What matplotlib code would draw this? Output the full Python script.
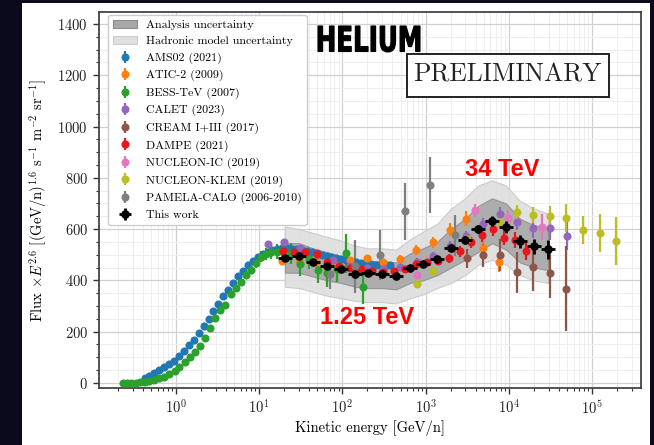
import matplotlib
matplotlib.use("Agg")
import matplotlib.pyplot as plt
import numpy as np
from matplotlib.patches import Rectangle, Patch, PathPatch
from matplotlib.textpath import TextPath
from matplotlib.font_manager import FontProperties
from matplotlib.transforms import Affine2D
from matplotlib.ticker import AutoMinorLocator, LogLocator, NullFormatter

plt.rcParams['font.family'] = 'serif'
plt.rcParams['font.serif'] = ['cmr10']
plt.rcParams['mathtext.fontset'] = 'cm'
plt.rcParams['axes.formatter.use_mathtext'] = True

# ---- measurements (Ek/n in GeV/n, flux x E^2.6) ----
ams_e = [0.42, 0.48, 0.55, 0.63, 0.72, 0.83, 0.95, 1.09, 1.25, 1.43, 1.64, 1.88, 2.15,
         2.46, 2.82, 3.23, 3.70, 4.24, 4.86, 5.57, 6.38, 7.31, 8.38, 9.60, 11.0, 12.6,
         14.4, 16.5, 18.9, 21.7, 24.8, 28.5, 32.6, 37.4, 42.8, 49.1, 56.2, 64.4, 73.8,
         84.6, 96.9, 111, 127, 146, 167, 191, 219, 251, 288, 330, 378]
ams_f = [20, 28, 40, 50, 61, 72, 86, 103, 124, 147, 169, 196, 223, 251, 281, 307, 337,
         364, 390, 416, 438, 458, 476, 492, 503, 512, 519, 523, 525, 526, 524, 521, 518,
         513, 509, 505, 500, 495, 491, 487, 482, 478, 474, 470, 467, 465, 463, 461, 460,
         459, 458]

atic_e = [19, 30, 48, 77, 123, 198, 310, 490, 770, 1230, 1950, 3100, 4900, 7700]
atic_f = [474, 478, 470, 472, 478, 486, 470, 482, 517, 549, 598, 641, 525, 472]
atic_err = [10, 10, 10, 12, 12, 14, 15, 18, 20, 22, 25, 30, 35, 40]

bess_e = [0.23, 0.26, 0.29, 0.33, 0.37, 0.42, 0.48, 0.55, 0.63, 0.72, 0.83, 0.96, 1.10,
          1.27, 1.46, 1.68, 1.94, 2.23, 2.57, 2.96, 3.41, 3.93, 4.52, 5.21, 6.00, 6.91,
          7.96, 9.17, 10.6, 12.2, 14.0, 16.2, 18.6, 24.0, 31.0, 40.0, 51.0, 66.0, 85.0,
          110, 175]
bess_f = [0, 0, 0, 1, 2, 4, 6, 13, 19, 24, 33, 46, 61, 80, 101, 119, 142, 177, 214, 252,
          283, 305, 345, 372, 395, 419, 440, 468, 493, 503, 510, 512, 516, 505, 462, 485,
          440, 430, 445, 505, 376]
bess_err = [1, 1, 1, 1, 1, 1, 1, 1, 1, 2, 2, 2, 2, 3, 3, 3, 4, 4, 5, 6, 7, 8, 9, 10, 12,
            14, 16, 18, 22, 25, 28, 30, 35, 40, 45, 40, 50, 55, 50, 75, 70]

calet_e = [12.7, 20, 31, 49, 77, 123, 195, 310, 490, 780, 1230, 1950, 3100, 4900, 7800,
           12400, 19500, 31000, 50000]
calet_f = [541, 549, 525, 502, 478, 455, 450, 445, 451, 470, 494, 533, 572, 619, 659,
           627, 604, 604, 572]
calet_err = [8, 8, 8, 8, 8, 9, 10, 12, 14, 16, 18, 20, 22, 25, 28, 32, 38, 45, 55]

cream_e = [3150, 4900, 7800, 12400, 19600, 31000, 49000]
cream_f = [486, 498, 498, 431, 451, 427, 368]
cream_err = [36, 45, 62, 80, 94, 94, 165]

dampe_e = [19.3, 26, 36, 49, 66, 90, 122, 166, 225, 305, 414, 562, 763, 1035, 1405, 1907,
           2589, 3514, 4770, 6474, 8788, 11929, 16190]
dampe_f = [514, 510, 510, 502, 472, 457, 447, 443, 435, 431, 435, 443, 462, 470, 474,
           486, 513, 549, 575, 600, 565, 558, 513]
dampe_err = [6, 6, 6, 6, 7, 7, 8, 8, 9, 10, 11, 12, 13, 14, 16, 18, 20, 22, 24, 26, 28,
             30, 34]

nic_e = [780, 3900, 9800, 25000]
nic_f = [419, 674, 643, 608]
nic_err = [15, 25, 30, 52]

klem_e = [790, 1230, 3150, 7800, 12400, 19600, 31000, 49000, 78000, 124000, 196000]
klem_f = [384, 435, 560, 627, 666, 655, 651, 643, 596, 584, 553]
klem_err = [15, 18, 20, 25, 28, 32, 40, 55, 55, 75, 95]

pam_e = [71, 141, 283, 566, 1130, 2260]
pam_f = [423, 455, 500, 670, 772, 576]
pam_err = [58, 104, 98, 111, 110, 80]

# this work + systematic bands
work_e = [20.4, 30.1, 44.3, 65.3, 96.2, 141.7, 203, 299, 441, 650, 931, 1371, 2020, 2976,
          4267, 6285, 9253, 13630, 20080, 29580]
work_f = [486, 494, 472, 457, 443, 423, 427, 423, 416, 447, 462, 482, 525, 557, 600, 631,
          608, 553, 533, 521]
work_err = [8, 8, 8, 8, 8, 8, 8, 9, 9, 10, 11, 12, 13, 15, 17, 19, 22, 25, 30, 36]
ana_hi = [545, 545, 525, 510, 495, 480, 475, 475, 470, 505, 525, 550, 600, 640, 690, 720,
          700, 640, 615, 605]
ana_lo = [430, 430, 415, 400, 390, 375, 370, 370, 365, 390, 400, 420, 450, 480, 510, 545,
          520, 470, 450, 440]
had_hi = [610, 600, 585, 570, 555, 535, 525, 525, 520, 560, 590, 620, 680, 720, 770, 790,
          770, 710, 680, 660]
had_lo = [375, 370, 355, 340, 330, 320, 315, 315, 310, 330, 345, 370, 390, 420, 460, 480,
          460, 420, 400, 390]

W, H = 654, 445
fig = plt.figure(figsize=(W / 100, H / 100), dpi=100, facecolor='#0b0a1c')
fig.patches.append(Rectangle((22 / W, 0), (650 - 22) / W, (H - 3) / H,
                             transform=fig.transFigure, facecolor='white',
                             edgecolor='none', zorder=-10))
ax = fig.add_axes([99 / W, 1 - 388 / H, (641 - 99) / W, (388 - 12) / H])
ax.set_xscale('log')

ax.fill_between(work_e, had_lo, had_hi, color='#dedede', alpha=0.9, lw=0.8,
                edgecolor='#c8c8c8', zorder=1)
ax.fill_between(work_e, ana_lo, ana_hi, color='#a8a8a8', alpha=0.9, lw=0.8,
                edgecolor='#909090', zorder=1.1)

kw = dict(fmt='o', ms=4.8, elinewidth=1.6, capsize=0, zorder=3)
h_ams = ax.errorbar(ams_e, ams_f, yerr=np.full(len(ams_e), 3), color='#1f77b4', **kw)
h_atic = ax.errorbar(atic_e, atic_f, yerr=atic_err, color='#ff7f0e', **kw)
h_bess = ax.errorbar(bess_e, bess_f, yerr=bess_err, color='#2ca02c', **kw)
h_calet = ax.errorbar(calet_e, calet_f, yerr=calet_err, color='#9467bd', **kw)
h_cream = ax.errorbar(cream_e, cream_f, yerr=cream_err, color='#8c564b', **kw)
h_dampe = ax.errorbar(dampe_e, dampe_f, yerr=dampe_err, color='#e8171b', **kw)
h_nic = ax.errorbar(nic_e, nic_f, yerr=nic_err, color='#e377c2', **kw)
h_klem = ax.errorbar(klem_e, klem_f, yerr=klem_err, color='#bcbd22', **kw)
h_pam = ax.errorbar(pam_e, pam_f, yerr=pam_err, color='#7f7f7f', **kw)

we = np.array(work_e)
h_work = ax.errorbar(work_e, work_f, yerr=work_err, xerr=[we - we / 1.21, we * 1.21 - we],
                     fmt='o', ms=5.2, color='black', elinewidth=2, capsize=0, zorder=5)

ax.set_xlim(0.1187, 3.88e5)
ax.set_ylim(-20, 1447)
ax.set_xticks([1, 10, 100, 1e3, 1e4, 1e5])
ax.set_yticks([0, 200, 400, 600, 800, 1000, 1200, 1400])
ax.yaxis.set_minor_locator(AutoMinorLocator(4))
ax.xaxis.set_minor_locator(LogLocator(base=10, subs=np.arange(2, 10), numticks=12))
ax.xaxis.set_minor_formatter(NullFormatter())
ax.grid(which='major', color='#d0d0d0', lw=0.9, zorder=0)
ax.grid(which='minor', color='#eeeeee', lw=0.7, zorder=0)
ax.set_axisbelow(True)
ax.tick_params(which='both', direction='out', labelsize=10.5, colors='#333333',
               labelcolor='#222222')
ax.tick_params(which='major', length=4.5, width=1)
ax.tick_params(which='minor', length=2.5, width=0.8)
for s in ax.spines.values():
    s.set_color('#444444')
    s.set_linewidth(1.3)

ax.set_xlabel('Kinetic energy [GeV/n]', fontsize=10.5, labelpad=2)
ax.set_ylabel(r'Flux $\times E^{2.6}$ [(GeV/n)$^{1.6}$ s$^{-1}$ m$^{-2}$ sr$^{-1}$]',
              fontsize=10.5, labelpad=6)

band_a = Patch(facecolor='#a8a8a8', edgecolor='#8c8c8c', lw=0.8)
band_h = Patch(facecolor='#e0e0e0', edgecolor='#cccccc', lw=0.8)
handles = [band_a, band_h, h_ams, h_atic, h_bess, h_calet, h_cream, h_dampe, h_nic,
           h_klem, h_pam, h_work]
labels = ['Analysis uncertainty', 'Hadronic model uncertainty', 'AMS02 (2021)',
          'ATIC-2 (2009)', 'BESS-TeV (2007)', 'CALET (2023)', 'CREAM I+III (2017)',
          'DAMPE (2021)', 'NUCLEON-IC (2019)', 'NUCLEON-KLEM (2019)',
          'PAMELA-CALO (2006-2010)', 'This work']
leg = ax.legend(handles, labels, loc='upper left',
                bbox_to_anchor=((108 - 99) / 542, 1 - 3 / 376), borderaxespad=0,
                fontsize=8.6, labelspacing=0.5, handlelength=2.0, framealpha=1,
                edgecolor='#cccccc', fancybox=True)
leg.set_zorder(10)

# HELIUM title: bold sans squeezed into a narrow box
tp = TextPath((0, 0), 'HELIUM', size=40,
              prop=FontProperties(family='DejaVu Sans', weight='bold'))
ext = tp.get_extents()
bx0, bx1, by0, by1 = 318, 420, H - 52, H - 26
tr = (Affine2D().translate(-ext.x0, -ext.y0)
      .scale((bx1 - bx0) / ext.width, (by1 - by0) / ext.height)
      .translate(bx0, by0).scale(1 / W, 1 / H) + fig.transFigure)
fig.patches.append(PathPatch(tp, transform=tr, facecolor='black', edgecolor='black',
                             lw=0.8, zorder=20))

fig.patches.append(Rectangle((407 / W, 1 - 97 / H), (609 - 407) / W, (97 - 54) / H,
                             transform=fig.transFigure, facecolor='white',
                             edgecolor='#222222', lw=1.4, zorder=20))
fig.text(507 / W, 1 - 75 / H, 'PRELIMINARY', ha='center', va='center', fontsize=18.5,
         color='#222222', zorder=21)

red = dict(color='#ff0000', fontsize=17, fontweight='bold',
           family=['Liberation Sans', 'DejaVu Sans'], ha='center', va='center')
fig.text(502 / W, 1 - 169 / H, '34 TeV', **red)
fig.text(367 / W, 1 - 318 / H, '1.25 TeV', **red)

fig.savefig('out.png', dpi=100, facecolor=fig.get_facecolor())
